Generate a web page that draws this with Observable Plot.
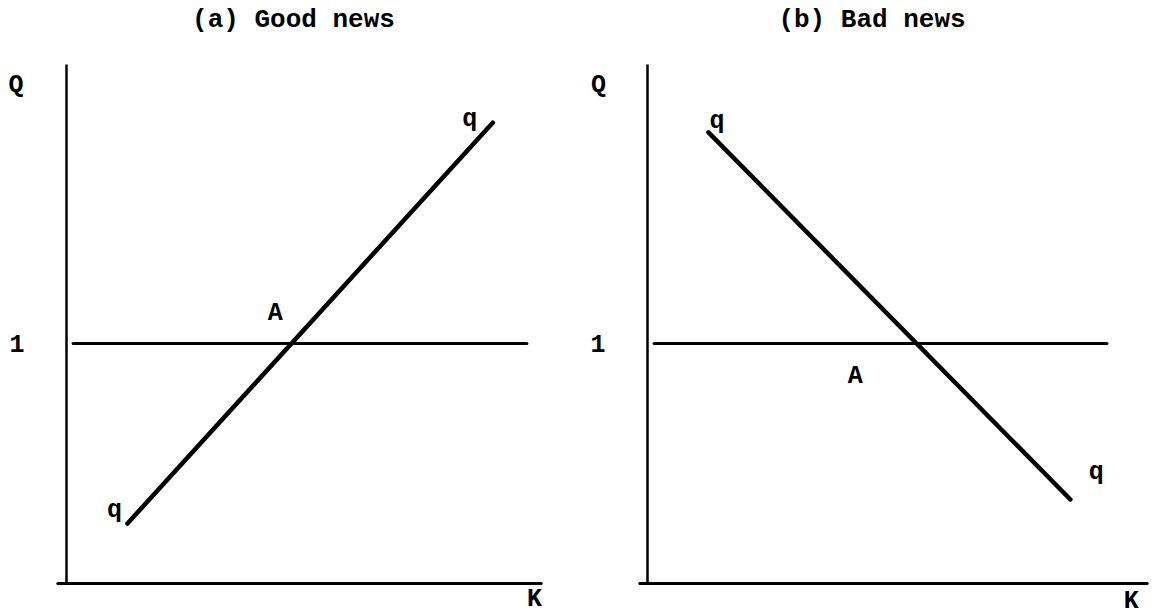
<!DOCTYPE html>
<html>
<head>
<meta charset="utf-8">
<script src="https://cdn.jsdelivr.net/npm/d3@7"></script>
<script src="https://cdn.jsdelivr.net/npm/@observablehq/plot@0.6"></script>
<style>
  body { margin: 0; background: #fff; }
  #wrap { display: flex; width: 1153px; }
  .title {
    font: bold 26px "Liberation Mono", "DejaVu Sans Mono", monospace;
    height: 40px; line-height: 40px; text-align: center; color: #000;
    white-space: pre;
  }
</style>
</head>
<body>
<div id="wrap"></div>
<script>
// Panel titles
const titles = ["(a) Good news", "(b) Bad news"];

// Top of the vertical Q axis and the Q = 1 reference level
const axisTop = 2.16;
const oneLevel = 1;

// End points of the q schedule in each panel (K, Q)
const goodK = [1.27, 8.88];
const goodQ = [0.25, 1.92];
const badK = [1.27, 8.81];
const badQ = [1.88, 0.35];

// Horizontal extent of the Q = 1 line and of the K axis
const oneSpanA = [0.15, 9.6];
const oneSpanB = [0.15, 9.58];
const kAxisA = [-0.17, 9.9];
const kAxisB = [-0.15, 10.42];

// Letters placed on each panel
const labelText = ["Q", "K", "q", "q", "A"];
const labelKA = [-1.05, 9.75, 8.4, 1.0, 4.35];
const labelQA = [2.08, -0.06, 1.94, 0.31, 1.13];
const labelKB = [-1.02, 10.08, 1.45, 9.35, 4.33];
const labelQB = [2.08, -0.07, 1.93, 0.47, 0.87];

const font = '"Liberation Mono", "DejaVu Sans Mono", monospace';

function panel({title, width, left, curveK, curveQ, oneSpan, kAxis, labK, labQ, titlePad}) {
  const curve = curveK.map((k, i) => ({K: k, Q: curveQ[i]}));
  const labels = labelText.map((t, i) => ({t, K: labK[i], Q: labQ[i]}));
  const svg = Plot.plot({
    width,
    height: 575,
    marginLeft: left,
    marginRight: width - left - 480,
    marginTop: 15,
    marginBottom: 32,
    style: {fontFamily: font, fontSize: "25px", fontWeight: "bold", background: "#fff", color: "#000", overflow: "visible"},
    x: {domain: [0, 10], axis: null},
    y: {domain: [0, 2.2]},
    marks: [
      // vertical Q axis
      Plot.ruleX([{K: 0}], {x: "K", y1: () => 0, y2: () => axisTop, stroke: "#000", strokeWidth: 2.5}),
      // horizontal K axis
      Plot.ruleY([{Q: 0}], {y: "Q", x1: () => kAxis[0], x2: () => kAxis[1], stroke: "#000", strokeWidth: 3, strokeLinecap: "round"}),
      // Q = 1 level
      Plot.ruleY([{Q: oneLevel}], {y: "Q", x1: () => oneSpan[0], x2: () => oneSpan[1], stroke: "#000", strokeWidth: 3.2, strokeLinecap: "round"}),
      // q schedule
      Plot.line(curve, {x: "K", y: "Q", stroke: "#000", strokeWidth: 4.5, strokeLinecap: "round"}),
      // tick label for Q = 1
      Plot.axisY([oneLevel], {tickSize: 0, tickPadding: 42, label: null, fontSize: 25, fontWeight: "bold", tickFormat: d => String(d)}),
      // letters
      Plot.text(labels, {x: "K", y: "Q", text: "t", fontSize: 25, fontWeight: "bold", fill: "#000"})
    ]
  });
  const box = document.createElement("div");
  box.style.width = width + "px";
  const head = document.createElement("div");
  head.className = "title";
  head.style.paddingLeft = titlePad + "px";
  head.textContent = title;
  box.append(head, svg);
  return box;
}

const wrap = document.getElementById("wrap");
wrap.append(
  panel({title: titles[0], width: 577, left: 66, curveK: goodK, curveQ: goodQ, oneSpan: oneSpanA, kAxis: kAxisA, labK: labelKA, labQ: labelQA, titlePad: 10}),
  panel({title: titles[1], width: 576, left: 70, curveK: badK, curveQ: badQ, oneSpan: oneSpanB, kAxis: kAxisB, labK: labelKB, labQ: labelQB, titlePad: 14})
);
</script>
</body>
</html>
